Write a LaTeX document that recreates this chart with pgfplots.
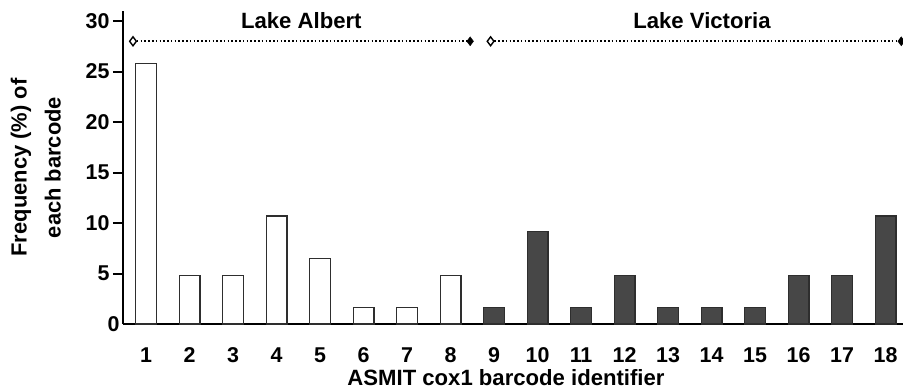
\documentclass[border=0pt]{standalone}
\usepackage{pgfplots}
\pgfplotsset{compat=1.18}
\usepackage{fontspec}
\setmainfont{Liberation Sans}
\definecolor{barfill}{HTML}{474747}
\definecolor{baredge}{HTML}{2E2E2E}
\begin{document}
\begin{tikzpicture}
\useasboundingbox (-123bp,-66bp) rectangle (780bp,324bp);
\begin{axis}[
  at={(0,0)}, anchor=south west,
  scale only axis,
  width=780bp, height=313bp,
  xmin=0.47, xmax=18.4,
  ymin=0, ymax=31,
  clip=false,
  axis x line*=bottom, axis y line*=left,
  axis line style={line width=2pt,-},
  xtick={1,...,18},
  xtick style={draw=none},
  ytick={5,10,...,30},
  extra y ticks={0},
  extra y tick style={major tick length=0pt},
  ytick style={line width=2pt, black},
  tick align=outside,
  major tick length=10bp,
  /pgf/number format/assume math mode=true,
  ticklabel style={font=\fontsize{21.5}{21.5}\selectfont\bfseries},
  xticklabel style={anchor=base, yshift=-28bp},
  xlabel={ASMIT cox1 barcode identifier},
  ylabel={Frequency (\%) of\\each barcode},
  xlabel style={font=\fontsize{22.2}{22.2}\selectfont\bfseries, at={(axis description cs:0.5,0)}, anchor=base, yshift=-61bp, xshift=-7bp},
  ylabel style={font=\fontsize{22}{34}\selectfont\bfseries, align=center, yshift=8bp},
  bar width=0.48,
]
\addplot[ybar, fill=white, draw=baredge, line width=1.2pt] coordinates {
 (1,25.8) (2,4.8) (3,4.8) (4,10.7) (5,6.5) (6,1.6) (7,1.6) (8,4.8)
};
\addplot[ybar, fill=barfill, draw=baredge, line width=1.2pt] coordinates {
 (9,1.6) (10,9.2) (11,1.6) (12,4.8) (13,1.6) (14,1.6) (15,1.6) (16,4.8) (17,4.8) (18,10.7)
};
% region lines
\addplot[black, line width=1.6pt, dash pattern=on 1.6pt off 2.2pt] coordinates {(0.70,28) (8.45,28)};
\addplot[black, line width=1.6pt, dash pattern=on 1.6pt off 2.2pt] coordinates {(8.92,28) (18.36,28)};
\addplot[only marks, mark=diamond*, mark size=4.5pt, mark options={fill=white, line width=1.4pt}] coordinates {(0.70,28) (8.92,28)};
\addplot[only marks, mark=diamond*, mark size=4.5pt, mark options={fill=black}] coordinates {(8.45,28) (18.36,28)};
\node[font=\fontsize{22.2}{22.2}\selectfont\bfseries, anchor=base] at (axis cs:4.57,29.3) {Lake Albert};
\node[font=\fontsize{22.2}{22.2}\selectfont\bfseries, anchor=base] at (axis cs:13.78,29.3) {Lake Victoria};
\end{axis}
\end{tikzpicture}
\end{document}
